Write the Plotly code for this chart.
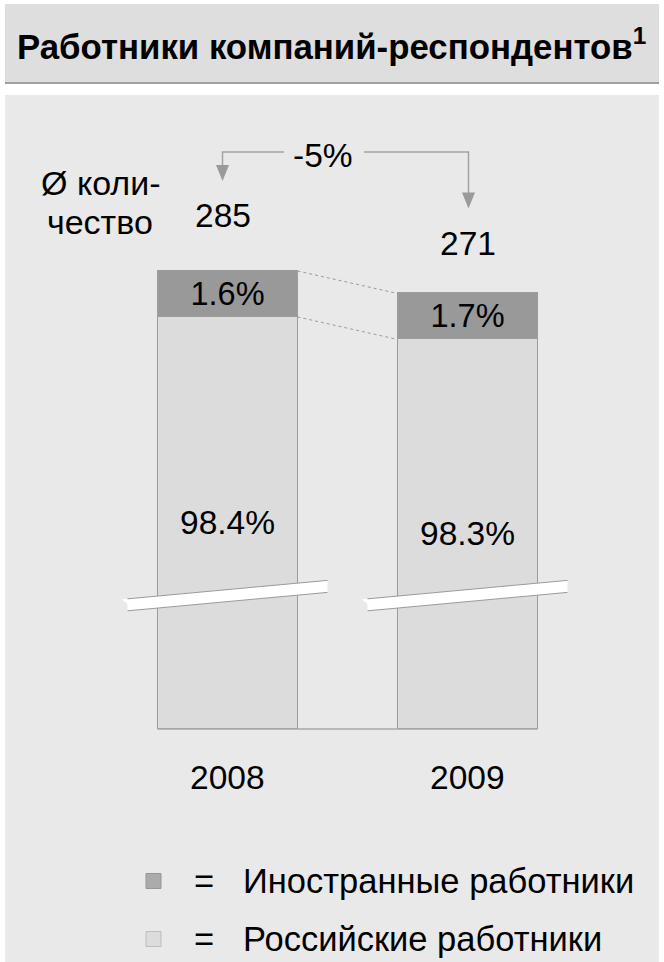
import plotly.graph_objects as go

# ---------------- data ----------------
years = ["2008", "2009"]
avg_employees = [285, 271]          # Ø количество
foreign_share = [1.6, 1.7]          # Иностранные работники, %
russian_share = [98.4, 98.3]        # Российские работники, %
legend_labels = ["Иностранные работники", "Российские работники"]
title_text = "Работники компаний-респондентов"
count_label = ["Ø коли-", "чество"]

# ---------------- style / geometry ----------------
W, H = 664, 962
FONT = "Liberation Sans, Arial, sans-serif"
C_FOREIGN = "#999999"
C_RUSSIAN = "#dcdcdc"
C_EDGE = "#9c9c9c"
C_PANEL = "#e9e9e9"
C_TITLEBOX = "#dedede"
C_ARROW = "#a3a3a3"
NUM_SIZE = 33.5
TXT_SIZE = 34.5

CAT_PX = 240.0          # pixels between category centres
X0_PX = 227.5           # pixel of first category centre
Y_PX_PER_UNIT = 1.6071  # vertical scale
Y0_PX = 729.0           # pixel of baseline
X_RANGE = [-X0_PX / CAT_PX, (W - X0_PX) / CAT_PX]
Y_RANGE = [-(H - Y0_PX) / Y_PX_PER_UNIT, Y0_PX / Y_PX_PER_UNIT]
BAR_PX = 140.0
BAR_WIDTH = BAR_PX / CAT_PX
SEG_UNITS = 28.6        # drawn height of the foreign segment (broken axis)
BREAK_Y = 83.0          # axis value of the break mark at bar centre
LABEL_SHIFT = [55, 50]  # px above bar top for totals
LABEL_DX = [-5, 0]


def x2px(x):
    return X0_PX + x * CAT_PX


def y2px(y):
    return Y0_PX - y * Y_PX_PER_UNIT


def xp(px):
    return px / W


def yp(py):
    return 1 - py / H


russian_drawn = [t - SEG_UNITS for t in avg_employees]
foreign_drawn = [SEG_UNITS for _ in avg_employees]
xpos = list(range(len(years)))

fig = go.Figure()
fig.add_trace(go.Bar(
    x=xpos, y=russian_drawn, width=BAR_WIDTH, name=legend_labels[1],
    marker=dict(color=C_RUSSIAN, line=dict(color=C_EDGE, width=1)),
    customdata=russian_share, texttemplate="%{customdata:.1f}%",
    textposition="inside", insidetextanchor="middle", textangle=0,
    constraintext="none",
    textfont=dict(family=FONT, size=NUM_SIZE, color="#000000"),
    hoverinfo="skip", showlegend=False,
))
fig.add_trace(go.Bar(
    x=xpos, y=foreign_drawn, width=BAR_WIDTH, name=legend_labels[0],
    marker=dict(color=C_FOREIGN, line=dict(color=C_EDGE, width=1)),
    customdata=foreign_share, texttemplate="%{customdata:.1f}%",
    textposition="inside", insidetextanchor="middle", textangle=0,
    constraintext="none",
    textfont=dict(family=FONT, size=32.5, color="#000000"),
    hoverinfo="skip", showlegend=False,
))

shapes = []
# background: title box and panel
shapes.append(dict(type="rect", xref="paper", yref="paper", layer="below",
                   x0=xp(5), x1=xp(659), y0=yp(83), y1=yp(4),
                   fillcolor=C_TITLEBOX, line=dict(width=0)))
shapes.append(dict(type="line", xref="paper", yref="paper", layer="below",
                   x0=xp(5), x1=xp(659), y0=yp(83), y1=yp(83),
                   line=dict(color="#a0a0a0", width=2)))
shapes.append(dict(type="rect", xref="paper", yref="paper", layer="below",
                   x0=xp(5), x1=xp(659), y0=yp(H + 5), y1=yp(95),
                   fillcolor=C_PANEL, line=dict(width=0)))

# baseline
b_left = x2px(0) - BAR_PX / 2
b_right = x2px(len(years) - 1) + BAR_PX / 2
shapes.append(dict(type="line", xref="paper", yref="paper",
                   x0=xp(b_left), x1=xp(b_right), y0=yp(Y0_PX), y1=yp(Y0_PX),
                   line=dict(color="#a8a8a8", width=1.5)))

# dotted connectors between bars
for yv in (0, SEG_UNITS):
    x_a = x2px(0) + BAR_PX / 2
    x_b = x2px(1) - BAR_PX / 2
    shapes.append(dict(type="line", xref="paper", yref="paper",
                       x0=xp(x_a), x1=xp(x_b),
                       y0=yp(y2px(avg_employees[0] - yv)),
                       y1=yp(y2px(avg_employees[1] - yv)),
                       line=dict(color="#9a9a9a", width=1, dash="dot")))

# break marks
slope = -19.0 / 206.0
thick = 12.0
for i in range(len(years)):
    c = x2px(i)
    mid = y2px(BREAK_Y)

    def top(x, c=c, mid=mid):
        return mid - thick / 2 + slope * (x - c)

    xl, xr = c - 100, c + 100
    xtip = c - 106
    path = (f"M {xp(xtip)},{yp(top(xl) + 0.5)} "
            f"L {xp(xr)},{yp(top(xr))} L {xp(xr)},{yp(top(xr) + thick)} "
            f"L {xp(xl)},{yp(top(xl) + thick)} L {xp(xl)},{yp(top(xl) + 5)} Z")
    shapes.append(dict(type="path", xref="paper", yref="paper", path=path,
                       fillcolor="#ffffff", line=dict(width=0)))
    shapes.append(dict(type="line", xref="paper", yref="paper",
                       x0=xp(xl), x1=xp(xr), y0=yp(top(xl)), y1=yp(top(xr)),
                       line=dict(color="#9a9a9a", width=1)))
    shapes.append(dict(type="line", xref="paper", yref="paper",
                       x0=xp(xl), x1=xp(xr), y0=yp(top(xl) + thick),
                       y1=yp(top(xr) + thick),
                       line=dict(color="#9a9a9a", width=1)))

# change arrows
arrow_y = 152
label_centres = [y2px(t) - s for t, s in zip(avg_employees, LABEL_SHIFT)]
arrow_x = [x2px(0) - 5, x2px(1) + 1]
gap = (284, 364)
for k, (ax, lc) in enumerate(zip(arrow_x, label_centres)):
    tip = lc - 35
    head = 16
    hx = gap[0] if k == 0 else gap[1]
    shapes.append(dict(type="path", xref="paper", yref="paper",
                       path=(f"M {xp(hx)},{yp(arrow_y)} L {xp(ax)},{yp(arrow_y)} "
                             f"L {xp(ax)},{yp(tip - head + 1)}"),
                       line=dict(color=C_ARROW, width=1.5)))
    shapes.append(dict(type="path", xref="paper", yref="paper",
                       path=(f"M {xp(ax - 6.5)},{yp(tip - head)} L {xp(ax + 6.5)},{yp(tip - head)} "
                             f"L {xp(ax)},{yp(tip)} Z"),
                       fillcolor="#9a9a9a", line=dict(width=0)))

# legend squares
legend_rows = [881, 939]
for (row, col, edge) in zip(legend_rows, ["#ababab", C_RUSSIAN], ["#959595", "#bdbdbd"]):
    shapes.append(dict(type="rect", xref="paper", yref="paper",
                       x0=xp(146), x1=xp(161), y0=yp(row + 7.5), y1=yp(row - 7.5),
                       fillcolor=col, line=dict(color=edge, width=1)))

annotations = []
# title
annotations.append(dict(xref="paper", yref="paper", x=xp(15), y=yp(44),
                        xanchor="left", yanchor="middle", showarrow=False,
                        text=f"<b>{title_text}<sup>1</sup></b>",
                        font=dict(family=FONT, size=34.8, color="#000000")))
# count label
for line, cy in zip(count_label, [183, 222]):
    annotations.append(dict(xref="paper", yref="paper", x=xp(100), y=yp(cy),
                            xanchor="center", yanchor="middle", showarrow=False,
                            text=line, font=dict(family=FONT, size=34, color="#000000")))
# totals and years
for i, (yr, t) in enumerate(zip(years, avg_employees)):
    annotations.append(dict(xref="paper", yref="paper",
                            x=xp(x2px(i) + LABEL_DX[i]), y=yp(label_centres[i]),
                            xanchor="center", yanchor="middle", showarrow=False,
                            text=str(t), font=dict(family=FONT, size=NUM_SIZE, color="#000000")))
    annotations.append(dict(xref="paper", yref="paper",
                            x=xp(x2px(i)), y=yp(y2px(0) + 48),
                            xanchor="center", yanchor="middle", showarrow=False,
                            text=yr, font=dict(family=FONT, size=NUM_SIZE, color="#000000")))
# change label
change = round((avg_employees[1] / avg_employees[0] - 1) * 100)
annotations.append(dict(xref="paper", yref="paper", x=xp(323), y=yp(155),
                        xanchor="center", yanchor="middle", showarrow=False,
                        text=f"{change}%",
                        font=dict(family=FONT, size=NUM_SIZE, color="#000000")))
# legend text
for row, lab in zip(legend_rows, legend_labels):
    annotations.append(dict(xref="paper", yref="paper", x=xp(204), y=yp(row),
                            xanchor="center", yanchor="middle", showarrow=False,
                            text="=", font=dict(family=FONT, size=TXT_SIZE, color="#000000")))
    annotations.append(dict(xref="paper", yref="paper", x=xp(241), y=yp(row),
                            xanchor="left", yanchor="middle", showarrow=False,
                            text=lab, font=dict(family=FONT, size=TXT_SIZE, color="#000000")))

fig.update_layout(
    width=W, height=H, barmode="stack", bargap=0,
    margin=dict(l=0, r=0, t=0, b=0),
    paper_bgcolor="#ffffff", plot_bgcolor="rgba(0,0,0,0)",
    xaxis=dict(range=X_RANGE, visible=False, fixedrange=True),
    yaxis=dict(range=Y_RANGE, visible=False, fixedrange=True),
    shapes=shapes, annotations=annotations,
    font=dict(family=FONT), showlegend=False,
)

fig.write_html("out.html", config={"displayModeBar": False},
               post_script="document.body.style.margin='0';document.body.style.overflow='hidden';")
